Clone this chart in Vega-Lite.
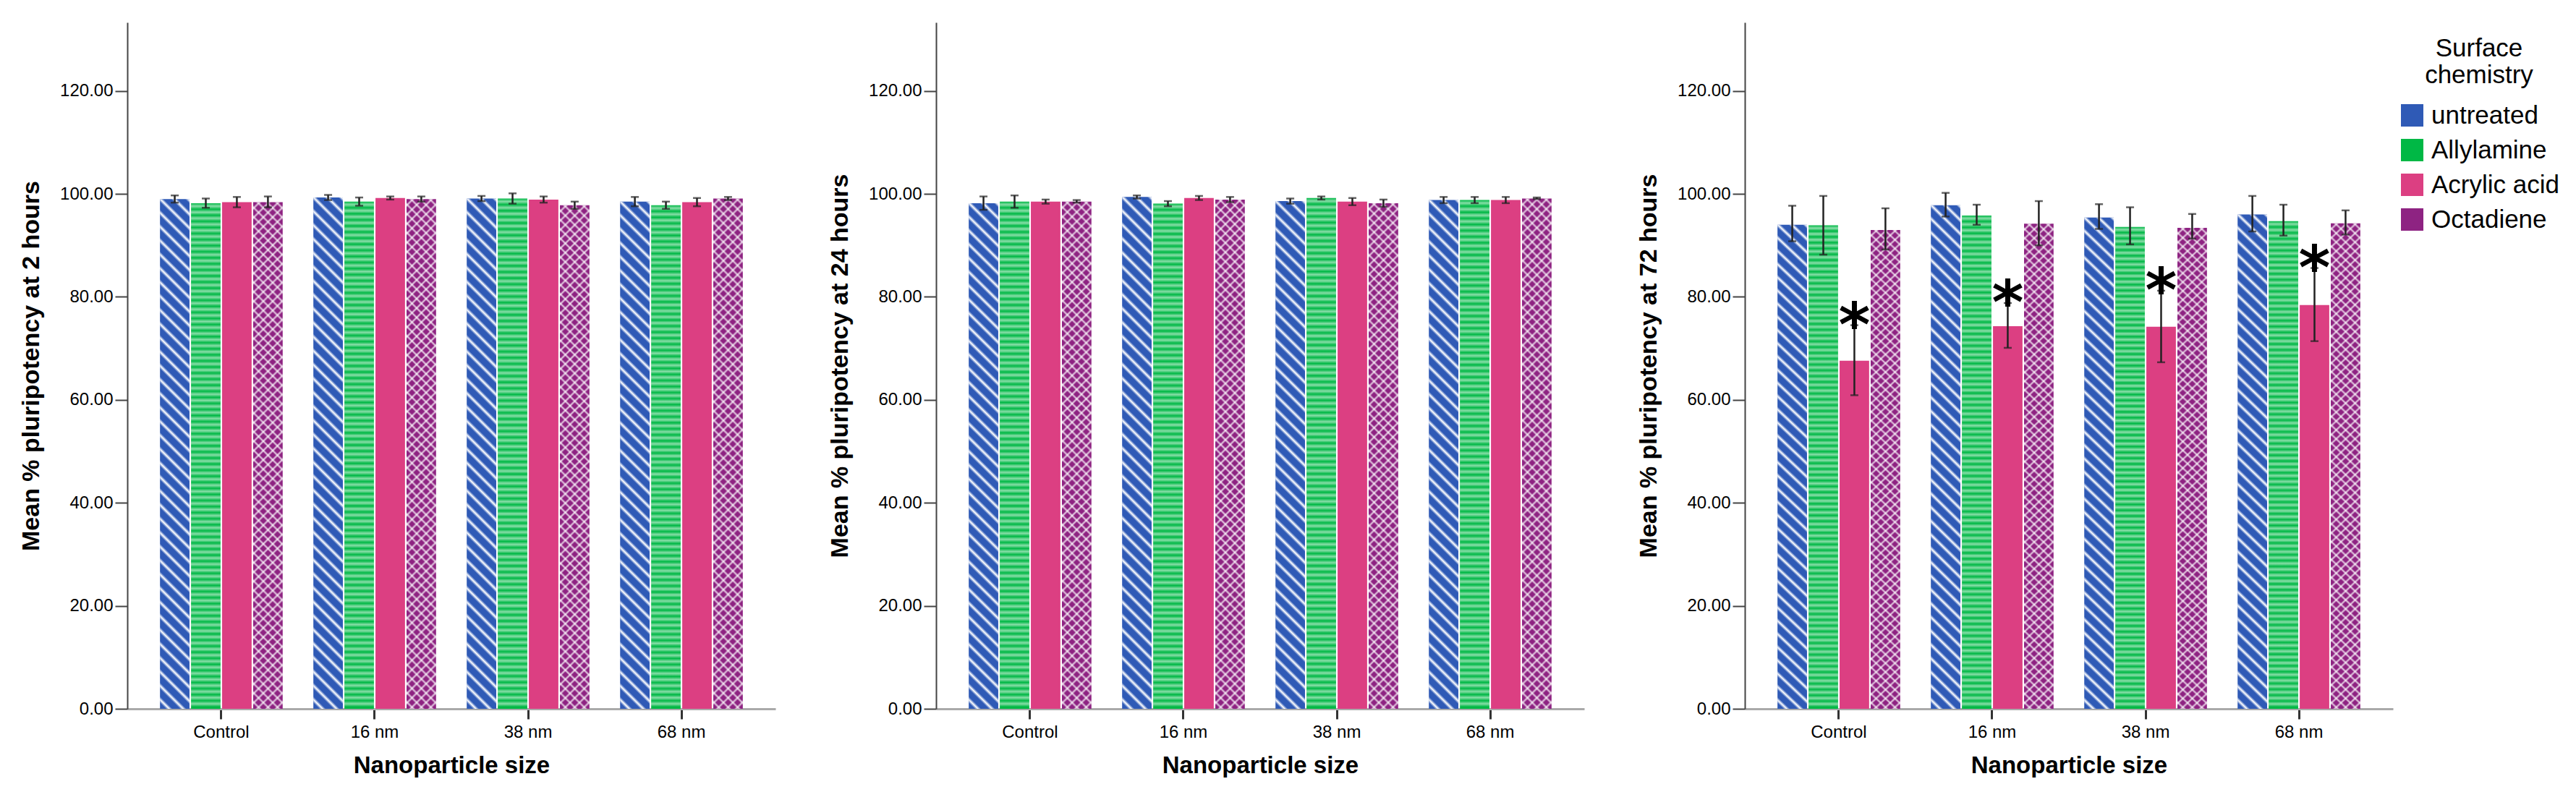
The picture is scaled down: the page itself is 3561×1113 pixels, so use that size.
{
  "$schema": "https://vega.github.io/schema/vega-lite/v6.json",
  "padding": {"left": 26, "top": 31, "right": 0, "bottom": 0},
  "background": "white",
  "spacing": 72,
  "params": [
    {"name": "thin", "value": [
      {"offset":0,"color":"#fff0"},{"offset":0.004,"color":"#fff"},{"offset":0.008,"color":"#fff0"},
      {"offset":0.017,"color":"#fff0"},{"offset":0.021,"color":"#fff"},{"offset":0.025,"color":"#fff0"},
      {"offset":0.034,"color":"#fff0"},{"offset":0.038,"color":"#fff"},{"offset":0.042,"color":"#fff0"},
      {"offset":0.051,"color":"#fff0"},{"offset":0.055,"color":"#fff"},{"offset":0.059,"color":"#fff0"},
      {"offset":0.068,"color":"#fff0"},{"offset":0.072,"color":"#fff"},{"offset":0.076,"color":"#fff0"},
      {"offset":0.085,"color":"#fff0"},{"offset":0.089,"color":"#fff"},{"offset":0.093,"color":"#fff0"},
      {"offset":0.102,"color":"#fff0"},{"offset":0.106,"color":"#fff"},{"offset":0.11,"color":"#fff0"},
      {"offset":0.119,"color":"#fff0"},{"offset":0.123,"color":"#fff"},{"offset":0.127,"color":"#fff0"},
      {"offset":0.136,"color":"#fff0"},{"offset":0.14,"color":"#fff"},{"offset":0.144,"color":"#fff0"},
      {"offset":0.153,"color":"#fff0"},{"offset":0.157,"color":"#fff"},{"offset":0.161,"color":"#fff0"},
      {"offset":0.17,"color":"#fff0"},{"offset":0.174,"color":"#fff"},{"offset":0.178,"color":"#fff0"},
      {"offset":0.187,"color":"#fff0"},{"offset":0.191,"color":"#fff"},{"offset":0.195,"color":"#fff0"},
      {"offset":0.204,"color":"#fff0"},{"offset":0.208,"color":"#fff"},{"offset":0.212,"color":"#fff0"},
      {"offset":0.221,"color":"#fff0"},{"offset":0.225,"color":"#fff"},{"offset":0.229,"color":"#fff0"},
      {"offset":0.238,"color":"#fff0"},{"offset":0.242,"color":"#fff"},{"offset":0.246,"color":"#fff0"},
      {"offset":0.255,"color":"#fff0"},{"offset":0.259,"color":"#fff"},{"offset":0.263,"color":"#fff0"},
      {"offset":0.272,"color":"#fff0"},{"offset":0.276,"color":"#fff"},{"offset":0.28,"color":"#fff0"},
      {"offset":0.289,"color":"#fff0"},{"offset":0.293,"color":"#fff"},{"offset":0.297,"color":"#fff0"},
      {"offset":0.306,"color":"#fff0"},{"offset":0.31,"color":"#fff"},{"offset":0.314,"color":"#fff0"},
      {"offset":0.323,"color":"#fff0"},{"offset":0.327,"color":"#fff"},{"offset":0.331,"color":"#fff0"},
      {"offset":0.34,"color":"#fff0"},{"offset":0.344,"color":"#fff"},{"offset":0.348,"color":"#fff0"},
      {"offset":0.357,"color":"#fff0"},{"offset":0.361,"color":"#fff"},{"offset":0.365,"color":"#fff0"},
      {"offset":0.374,"color":"#fff0"},{"offset":0.378,"color":"#fff"},{"offset":0.382,"color":"#fff0"},
      {"offset":0.391,"color":"#fff0"},{"offset":0.395,"color":"#fff"},{"offset":0.399,"color":"#fff0"},
      {"offset":0.408,"color":"#fff0"},{"offset":0.412,"color":"#fff"},{"offset":0.416,"color":"#fff0"},
      {"offset":0.425,"color":"#fff0"},{"offset":0.429,"color":"#fff"},{"offset":0.433,"color":"#fff0"},
      {"offset":0.442,"color":"#fff0"},{"offset":0.446,"color":"#fff"},{"offset":0.45,"color":"#fff0"},
      {"offset":0.459,"color":"#fff0"},{"offset":0.463,"color":"#fff"},{"offset":0.467,"color":"#fff0"},
      {"offset":0.476,"color":"#fff0"},{"offset":0.48,"color":"#fff"},{"offset":0.484,"color":"#fff0"},
      {"offset":0.493,"color":"#fff0"},{"offset":0.497,"color":"#fff"},{"offset":0.501,"color":"#fff0"},
      {"offset":0.51,"color":"#fff0"},{"offset":0.514,"color":"#fff"},{"offset":0.518,"color":"#fff0"},
      {"offset":0.527,"color":"#fff0"},{"offset":0.531,"color":"#fff"},{"offset":0.535,"color":"#fff0"},
      {"offset":0.544,"color":"#fff0"},{"offset":0.548,"color":"#fff"},{"offset":0.552,"color":"#fff0"},
      {"offset":0.561,"color":"#fff0"},{"offset":0.565,"color":"#fff"},{"offset":0.569,"color":"#fff0"},
      {"offset":0.578,"color":"#fff0"},{"offset":0.582,"color":"#fff"},{"offset":0.586,"color":"#fff0"},
      {"offset":0.595,"color":"#fff0"},{"offset":0.599,"color":"#fff"},{"offset":0.603,"color":"#fff0"},
      {"offset":0.612,"color":"#fff0"},{"offset":0.616,"color":"#fff"},{"offset":0.62,"color":"#fff0"},
      {"offset":0.629,"color":"#fff0"},{"offset":0.633,"color":"#fff"},{"offset":0.637,"color":"#fff0"},
      {"offset":0.646,"color":"#fff0"},{"offset":0.65,"color":"#fff"},{"offset":0.654,"color":"#fff0"},
      {"offset":0.663,"color":"#fff0"},{"offset":0.667,"color":"#fff"},{"offset":0.671,"color":"#fff0"},
      {"offset":0.68,"color":"#fff0"},{"offset":0.684,"color":"#fff"},{"offset":0.688,"color":"#fff0"},
      {"offset":0.697,"color":"#fff0"},{"offset":0.701,"color":"#fff"},{"offset":0.705,"color":"#fff0"},
      {"offset":0.714,"color":"#fff0"},{"offset":0.718,"color":"#fff"},{"offset":0.722,"color":"#fff0"},
      {"offset":0.731,"color":"#fff0"},{"offset":0.735,"color":"#fff"},{"offset":0.739,"color":"#fff0"},
      {"offset":0.748,"color":"#fff0"},{"offset":0.752,"color":"#fff"},{"offset":0.756,"color":"#fff0"},
      {"offset":0.765,"color":"#fff0"},{"offset":0.769,"color":"#fff"},{"offset":0.773,"color":"#fff0"},
      {"offset":0.782,"color":"#fff0"},{"offset":0.786,"color":"#fff"},{"offset":0.79,"color":"#fff0"},
      {"offset":0.799,"color":"#fff0"},{"offset":0.803,"color":"#fff"},{"offset":0.807,"color":"#fff0"},
      {"offset":0.816,"color":"#fff0"},{"offset":0.82,"color":"#fff"},{"offset":0.824,"color":"#fff0"},
      {"offset":0.833,"color":"#fff0"},{"offset":0.837,"color":"#fff"},{"offset":0.841,"color":"#fff0"},
      {"offset":0.85,"color":"#fff0"},{"offset":0.854,"color":"#fff"},{"offset":0.858,"color":"#fff0"},
      {"offset":0.867,"color":"#fff0"},{"offset":0.871,"color":"#fff"},{"offset":0.875,"color":"#fff0"},
      {"offset":0.884,"color":"#fff0"},{"offset":0.888,"color":"#fff"},{"offset":0.892,"color":"#fff0"},
      {"offset":0.901,"color":"#fff0"},{"offset":0.905,"color":"#fff"},{"offset":0.909,"color":"#fff0"},
      {"offset":0.918,"color":"#fff0"},{"offset":0.922,"color":"#fff"},{"offset":0.926,"color":"#fff0"},
      {"offset":0.935,"color":"#fff0"},{"offset":0.939,"color":"#fff"},{"offset":0.943,"color":"#fff0"},
      {"offset":0.952,"color":"#fff0"},{"offset":0.956,"color":"#fff"},{"offset":0.96,"color":"#fff0"},
      {"offset":0.969,"color":"#fff0"},{"offset":0.973,"color":"#fff"},{"offset":0.977,"color":"#fff0"},
      {"offset":0.986,"color":"#fff0"},{"offset":0.99,"color":"#fff"},{"offset":0.994,"color":"#fff0"}
    ]},
    {"name": "soft", "value": [
      {"offset":0,"color":"#fff0"},{"offset":0.006,"color":"#fff8"},{"offset":0.012,"color":"#fff0"},{"offset":0.018,"color":"#fff8"},
      {"offset":0.024,"color":"#fff0"},{"offset":0.03,"color":"#fff8"},{"offset":0.036,"color":"#fff0"},{"offset":0.042,"color":"#fff8"},
      {"offset":0.048,"color":"#fff0"},{"offset":0.054,"color":"#fff8"},{"offset":0.06,"color":"#fff0"},{"offset":0.066,"color":"#fff8"},
      {"offset":0.072,"color":"#fff0"},{"offset":0.078,"color":"#fff8"},{"offset":0.084,"color":"#fff0"},{"offset":0.09,"color":"#fff8"},
      {"offset":0.096,"color":"#fff0"},{"offset":0.102,"color":"#fff8"},{"offset":0.108,"color":"#fff0"},{"offset":0.114,"color":"#fff8"},
      {"offset":0.12,"color":"#fff0"},{"offset":0.126,"color":"#fff8"},{"offset":0.132,"color":"#fff0"},{"offset":0.138,"color":"#fff8"},
      {"offset":0.144,"color":"#fff0"},{"offset":0.15,"color":"#fff8"},{"offset":0.156,"color":"#fff0"},{"offset":0.162,"color":"#fff8"},
      {"offset":0.168,"color":"#fff0"},{"offset":0.174,"color":"#fff8"},{"offset":0.18,"color":"#fff0"},{"offset":0.186,"color":"#fff8"},
      {"offset":0.192,"color":"#fff0"},{"offset":0.198,"color":"#fff8"},{"offset":0.204,"color":"#fff0"},{"offset":0.21,"color":"#fff8"},
      {"offset":0.216,"color":"#fff0"},{"offset":0.222,"color":"#fff8"},{"offset":0.228,"color":"#fff0"},{"offset":0.234,"color":"#fff8"},
      {"offset":0.24,"color":"#fff0"},{"offset":0.246,"color":"#fff8"},{"offset":0.252,"color":"#fff0"},{"offset":0.258,"color":"#fff8"},
      {"offset":0.264,"color":"#fff0"},{"offset":0.27,"color":"#fff8"},{"offset":0.276,"color":"#fff0"},{"offset":0.282,"color":"#fff8"},
      {"offset":0.288,"color":"#fff0"},{"offset":0.294,"color":"#fff8"},{"offset":0.3,"color":"#fff0"},{"offset":0.306,"color":"#fff8"},
      {"offset":0.312,"color":"#fff0"},{"offset":0.318,"color":"#fff8"},{"offset":0.324,"color":"#fff0"},{"offset":0.33,"color":"#fff8"},
      {"offset":0.336,"color":"#fff0"},{"offset":0.342,"color":"#fff8"},{"offset":0.348,"color":"#fff0"},{"offset":0.354,"color":"#fff8"},
      {"offset":0.36,"color":"#fff0"},{"offset":0.366,"color":"#fff8"},{"offset":0.372,"color":"#fff0"},{"offset":0.378,"color":"#fff8"},
      {"offset":0.384,"color":"#fff0"},{"offset":0.39,"color":"#fff8"},{"offset":0.396,"color":"#fff0"},{"offset":0.402,"color":"#fff8"},
      {"offset":0.408,"color":"#fff0"},{"offset":0.414,"color":"#fff8"},{"offset":0.42,"color":"#fff0"},{"offset":0.426,"color":"#fff8"},
      {"offset":0.432,"color":"#fff0"},{"offset":0.438,"color":"#fff8"},{"offset":0.444,"color":"#fff0"},{"offset":0.45,"color":"#fff8"},
      {"offset":0.456,"color":"#fff0"},{"offset":0.462,"color":"#fff8"},{"offset":0.468,"color":"#fff0"},{"offset":0.474,"color":"#fff8"},
      {"offset":0.48,"color":"#fff0"},{"offset":0.486,"color":"#fff8"},{"offset":0.492,"color":"#fff0"},{"offset":0.498,"color":"#fff8"},
      {"offset":0.504,"color":"#fff0"},{"offset":0.51,"color":"#fff8"},{"offset":0.516,"color":"#fff0"},{"offset":0.522,"color":"#fff8"},
      {"offset":0.528,"color":"#fff0"},{"offset":0.534,"color":"#fff8"},{"offset":0.54,"color":"#fff0"},{"offset":0.546,"color":"#fff8"},
      {"offset":0.552,"color":"#fff0"},{"offset":0.558,"color":"#fff8"},{"offset":0.564,"color":"#fff0"},{"offset":0.57,"color":"#fff8"},
      {"offset":0.576,"color":"#fff0"},{"offset":0.582,"color":"#fff8"},{"offset":0.588,"color":"#fff0"},{"offset":0.594,"color":"#fff8"},
      {"offset":0.6,"color":"#fff0"},{"offset":0.606,"color":"#fff8"},{"offset":0.612,"color":"#fff0"},{"offset":0.618,"color":"#fff8"},
      {"offset":0.624,"color":"#fff0"},{"offset":0.63,"color":"#fff8"},{"offset":0.636,"color":"#fff0"},{"offset":0.642,"color":"#fff8"},
      {"offset":0.648,"color":"#fff0"},{"offset":0.654,"color":"#fff8"},{"offset":0.66,"color":"#fff0"},{"offset":0.666,"color":"#fff8"},
      {"offset":0.672,"color":"#fff0"},{"offset":0.678,"color":"#fff8"},{"offset":0.684,"color":"#fff0"},{"offset":0.69,"color":"#fff8"},
      {"offset":0.696,"color":"#fff0"},{"offset":0.702,"color":"#fff8"},{"offset":0.708,"color":"#fff0"},{"offset":0.714,"color":"#fff8"},
      {"offset":0.72,"color":"#fff0"},{"offset":0.726,"color":"#fff8"},{"offset":0.732,"color":"#fff0"},{"offset":0.738,"color":"#fff8"},
      {"offset":0.744,"color":"#fff0"},{"offset":0.75,"color":"#fff8"},{"offset":0.756,"color":"#fff0"},{"offset":0.762,"color":"#fff8"},
      {"offset":0.768,"color":"#fff0"},{"offset":0.774,"color":"#fff8"},{"offset":0.78,"color":"#fff0"},{"offset":0.786,"color":"#fff8"},
      {"offset":0.792,"color":"#fff0"},{"offset":0.798,"color":"#fff8"},{"offset":0.804,"color":"#fff0"},{"offset":0.81,"color":"#fff8"},
      {"offset":0.816,"color":"#fff0"},{"offset":0.822,"color":"#fff8"},{"offset":0.828,"color":"#fff0"},{"offset":0.834,"color":"#fff8"},
      {"offset":0.84,"color":"#fff0"},{"offset":0.846,"color":"#fff8"},{"offset":0.852,"color":"#fff0"},{"offset":0.858,"color":"#fff8"},
      {"offset":0.864,"color":"#fff0"},{"offset":0.87,"color":"#fff8"},{"offset":0.876,"color":"#fff0"},{"offset":0.882,"color":"#fff8"},
      {"offset":0.888,"color":"#fff0"},{"offset":0.894,"color":"#fff8"},{"offset":0.9,"color":"#fff0"},{"offset":0.906,"color":"#fff8"},
      {"offset":0.912,"color":"#fff0"},{"offset":0.918,"color":"#fff8"},{"offset":0.924,"color":"#fff0"},{"offset":0.93,"color":"#fff8"},
      {"offset":0.936,"color":"#fff0"},{"offset":0.942,"color":"#fff8"},{"offset":0.948,"color":"#fff0"},{"offset":0.954,"color":"#fff8"},
      {"offset":0.96,"color":"#fff0"},{"offset":0.966,"color":"#fff8"},{"offset":0.972,"color":"#fff0"},{"offset":0.978,"color":"#fff8"},
      {"offset":0.984,"color":"#fff0"},{"offset":0.99,"color":"#fff8"},{"offset":0.996,"color":"#fff0"}
    ]}
  ],
  "data": {"values": [
    {"time":"2 hours","size":"Control","chem":"untreated","mean":99.0,"lo":98.3,"hi":99.7},
    {"time":"2 hours","size":"Control","chem":"Allylamine","mean":98.2,"lo":97.3,"hi":99.1},
    {"time":"2 hours","size":"Control","chem":"Acrylic acid","mean":98.4,"lo":97.4,"hi":99.4},
    {"time":"2 hours","size":"Control","chem":"Octadiene","mean":98.4,"lo":97.4,"hi":99.5},
    {"time":"2 hours","size":"16 nm","chem":"untreated","mean":99.3,"lo":98.8,"hi":99.8},
    {"time":"2 hours","size":"16 nm","chem":"Allylamine","mean":98.5,"lo":97.7,"hi":99.3},
    {"time":"2 hours","size":"16 nm","chem":"Acrylic acid","mean":99.2,"lo":98.9,"hi":99.5},
    {"time":"2 hours","size":"16 nm","chem":"Octadiene","mean":99.0,"lo":98.5,"hi":99.5},
    {"time":"2 hours","size":"38 nm","chem":"untreated","mean":99.1,"lo":98.6,"hi":99.6},
    {"time":"2 hours","size":"38 nm","chem":"Allylamine","mean":99.1,"lo":98.1,"hi":100.1},
    {"time":"2 hours","size":"38 nm","chem":"Acrylic acid","mean":98.9,"lo":98.3,"hi":99.5},
    {"time":"2 hours","size":"38 nm","chem":"Octadiene","mean":97.8,"lo":97.1,"hi":98.5},
    {"time":"2 hours","size":"68 nm","chem":"untreated","mean":98.5,"lo":97.6,"hi":99.4},
    {"time":"2 hours","size":"68 nm","chem":"Allylamine","mean":97.8,"lo":97.1,"hi":98.5},
    {"time":"2 hours","size":"68 nm","chem":"Acrylic acid","mean":98.4,"lo":97.6,"hi":99.2},
    {"time":"2 hours","size":"68 nm","chem":"Octadiene","mean":99.1,"lo":98.8,"hi":99.4},
    {"time":"24 hours","size":"Control","chem":"untreated","mean":98.2,"lo":96.9,"hi":99.5},
    {"time":"24 hours","size":"Control","chem":"Allylamine","mean":98.5,"lo":97.3,"hi":99.7},
    {"time":"24 hours","size":"Control","chem":"Acrylic acid","mean":98.5,"lo":98.1,"hi":98.9},
    {"time":"24 hours","size":"Control","chem":"Octadiene","mean":98.5,"lo":98.3,"hi":98.8},
    {"time":"24 hours","size":"16 nm","chem":"untreated","mean":99.4,"lo":99.1,"hi":99.7},
    {"time":"24 hours","size":"16 nm","chem":"Allylamine","mean":98.1,"lo":97.6,"hi":98.6},
    {"time":"24 hours","size":"16 nm","chem":"Acrylic acid","mean":99.2,"lo":98.8,"hi":99.6},
    {"time":"24 hours","size":"16 nm","chem":"Octadiene","mean":98.9,"lo":98.4,"hi":99.4},
    {"time":"24 hours","size":"38 nm","chem":"untreated","mean":98.6,"lo":98.1,"hi":99.1},
    {"time":"24 hours","size":"38 nm","chem":"Allylamine","mean":99.2,"lo":98.9,"hi":99.5},
    {"time":"24 hours","size":"38 nm","chem":"Acrylic acid","mean":98.5,"lo":97.8,"hi":99.2},
    {"time":"24 hours","size":"38 nm","chem":"Octadiene","mean":98.2,"lo":97.5,"hi":98.9},
    {"time":"24 hours","size":"68 nm","chem":"untreated","mean":98.8,"lo":98.2,"hi":99.4},
    {"time":"24 hours","size":"68 nm","chem":"Allylamine","mean":98.8,"lo":98.2,"hi":99.4},
    {"time":"24 hours","size":"68 nm","chem":"Acrylic acid","mean":98.8,"lo":98.2,"hi":99.4},
    {"time":"24 hours","size":"68 nm","chem":"Octadiene","mean":99.1,"lo":99.0,"hi":99.3},
    {"time":"72 hours","size":"Control","chem":"untreated","mean":94.0,"lo":90.8,"hi":97.7},
    {"time":"72 hours","size":"Control","chem":"Allylamine","mean":93.9,"lo":88.2,"hi":99.6},
    {"time":"72 hours","size":"Control","chem":"Acrylic acid","mean":67.6,"lo":60.9,"hi":74.5,"star":"*"},
    {"time":"72 hours","size":"Control","chem":"Octadiene","mean":93.0,"lo":89.2,"hi":97.2},
    {"time":"72 hours","size":"16 nm","chem":"untreated","mean":97.8,"lo":95.6,"hi":100.2},
    {"time":"72 hours","size":"16 nm","chem":"Allylamine","mean":95.8,"lo":94.0,"hi":97.9},
    {"time":"72 hours","size":"16 nm","chem":"Acrylic acid","mean":74.3,"lo":70.1,"hi":78.8,"star":"*"},
    {"time":"72 hours","size":"16 nm","chem":"Octadiene","mean":94.2,"lo":90.0,"hi":98.6},
    {"time":"72 hours","size":"38 nm","chem":"untreated","mean":95.4,"lo":93.2,"hi":98.0},
    {"time":"72 hours","size":"38 nm","chem":"Allylamine","mean":93.6,"lo":90.2,"hi":97.4},
    {"time":"72 hours","size":"38 nm","chem":"Acrylic acid","mean":74.2,"lo":67.3,"hi":81.2,"star":"*"},
    {"time":"72 hours","size":"38 nm","chem":"Octadiene","mean":93.4,"lo":91.3,"hi":96.1},
    {"time":"72 hours","size":"68 nm","chem":"untreated","mean":96.0,"lo":92.7,"hi":99.6},
    {"time":"72 hours","size":"68 nm","chem":"Allylamine","mean":94.7,"lo":91.9,"hi":97.9},
    {"time":"72 hours","size":"68 nm","chem":"Acrylic acid","mean":78.4,"lo":71.4,"hi":85.6,"star":"*"},
    {"time":"72 hours","size":"68 nm","chem":"Octadiene","mean":94.3,"lo":92.1,"hi":96.8}
  ]},
  "resolve": {"scale": {"color": "shared"}},
  "config": {
    "view": {"stroke": null},
    "font": "Liberation Sans",
    "axis": {"grid": false, "labelColor": "black", "titleColor": "black", "labelFont": "Liberation Sans", "titleFont": "Liberation Sans"},
    "axisY": {"domainColor": "#444", "domainWidth": 2, "tickColor": "#444", "tickWidth": 2, "tickSize": 17, "labelPadding": 3, "labelFontSize": 24, "titleFontSize": 34, "titleFontWeight": "bold", "titlePadding": 22, "format": ".2f"},
    "axisX": {"domainColor": "#aaa", "domainWidth": 3, "tickColor": "#333", "tickWidth": 3, "tickSize": 14, "labelAngle": 0, "labelPadding": 6, "labelFontSize": 24, "titleFontSize": 33, "titleFontWeight": "bold", "titlePadding": 18},
    "legend": {"orient": "right", "offset": -10, "padding": 19, "titleFont": "Liberation Sans", "titleFontSize": 35, "titleFontWeight": "normal", "titleColor": "black", "titleAnchor": "middle", "titleAlign": "center", "titleLineHeight": 37, "titlePadding": 20, "labelFont": "Liberation Sans", "labelFontSize": 35, "labelColor": "black", "labelOffset": 9, "labelLimit": 400, "symbolType": "square", "symbolSize": 961, "symbolStrokeWidth": 0, "symbolOpacity": 1, "rowPadding": 12}
  },
  "hconcat": [
    {
      "width": 896, "height": 949,
      "transform": [{"filter": "datum.time == '2 hours'"}],
      "encoding": {
        "x": {"field": "size", "type": "nominal", "title": "Nanoparticle size", "scale": {"domain": ["Control", "16 nm", "38 nm", "68 nm"], "paddingInner": 0.2, "paddingOuter": 0.213}},
        "xOffset": {"field": "chem", "type": "nominal", "scale": {"domain": ["untreated", "Allylamine", "Acrylic acid", "Octadiene"], "paddingInner": 0.05, "paddingOuter": 0}}
      },
      "layer": [
        {"mark": {"type": "bar"}, "encoding": {
          "y": {"field": "mean", "type": "quantitative", "title": "Mean % pluripotency at 2 hours", "scale": {"domain": [0, 133.3], "nice": false}, "axis": {"values": [0, 20, 40, 60, 80, 100, 120]}},
          "color": {"field": "chem", "type": "nominal", "scale": {"domain": ["untreated", "Allylamine", "Acrylic acid", "Octadiene"], "range": ["#2f5ab6", "#00b845", "#dc3f82", "#8e2382"]}, "legend": {"title": ["Surface", "chemistry"]}}}},
        {"transform": [{"filter": "datum.chem == 'untreated'"}], "mark": {"type": "bar", "color": {"expr": "{gradient: 'linear', x1: 0, y1: -0.58, x2: -0.092, y2: 1.02, stops: thin}"}},
          "encoding": {"y": {"field": "mean", "type": "quantitative", "title": "Mean % pluripotency at 2 hours", "scale": {"domain": [0, 133.3], "nice": false}, "axis": {"values": [0, 20, 40, 60, 80, 100, 120]}}}},
        {"transform": [{"filter": "datum.chem == 'Allylamine'"}], "mark": {"type": "bar", "color": {"expr": "{gradient: 'linear', x1: 0, y1: 0, x2: 0, y2: 1, stops: soft}"}},
          "encoding": {"y": {"field": "mean", "type": "quantitative", "title": "Mean % pluripotency at 2 hours", "scale": {"domain": [0, 133.3], "nice": false}, "axis": {"values": [0, 20, 40, 60, 80, 100, 120]}}}},
        {"transform": [{"filter": "datum.chem == 'Octadiene'"}], "mark": {"type": "bar", "opacity": 0.75, "color": {"expr": "{gradient: 'linear', x1: 0, y1: -0.068, x2: -0.0623, y2: 1.012, stops: thin}"}},
          "encoding": {"y": {"field": "mean", "type": "quantitative", "title": "Mean % pluripotency at 2 hours", "scale": {"domain": [0, 133.3], "nice": false}, "axis": {"values": [0, 20, 40, 60, 80, 100, 120]}}}},
        {"transform": [{"filter": "datum.chem == 'Octadiene'"}], "mark": {"type": "bar", "opacity": 0.75, "color": {"expr": "{gradient: 'linear', x1: 0, y1: -0.01, x2: 0.0623, y2: 1.07, stops: thin}"}},
          "encoding": {"y": {"field": "mean", "type": "quantitative", "title": "Mean % pluripotency at 2 hours", "scale": {"domain": [0, 133.3], "nice": false}, "axis": {"values": [0, 20, 40, 60, 80, 100, 120]}}}},
        {"mark": {"type": "rule", "color": "#222", "strokeWidth": 2.5}, "encoding": {
          "y": {"field": "lo", "type": "quantitative", "title": "Mean % pluripotency at 2 hours", "scale": {"domain": [0, 133.3], "nice": false}, "axis": {"values": [0, 20, 40, 60, 80, 100, 120]}}, "y2": {"field": "hi"}}},
        {"mark": {"type": "tick", "color": "#222", "size": 11, "thickness": 2.5}, "encoding": {
          "y": {"field": "lo", "type": "quantitative", "title": "Mean % pluripotency at 2 hours", "scale": {"domain": [0, 133.3], "nice": false}, "axis": {"values": [0, 20, 40, 60, 80, 100, 120]}}}},
        {"mark": {"type": "tick", "color": "#222", "size": 11, "thickness": 2.5}, "encoding": {
          "y": {"field": "hi", "type": "quantitative", "title": "Mean % pluripotency at 2 hours", "scale": {"domain": [0, 133.3], "nice": false}, "axis": {"values": [0, 20, 40, 60, 80, 100, 120]}}}}
      ]
    },
    {
      "width": 896, "height": 949,
      "transform": [{"filter": "datum.time == '24 hours'"}],
      "encoding": {
        "x": {"field": "size", "type": "nominal", "title": "Nanoparticle size", "scale": {"domain": ["Control", "16 nm", "38 nm", "68 nm"], "paddingInner": 0.2, "paddingOuter": 0.213}},
        "xOffset": {"field": "chem", "type": "nominal", "scale": {"domain": ["untreated", "Allylamine", "Acrylic acid", "Octadiene"], "paddingInner": 0.05, "paddingOuter": 0}}
      },
      "layer": [
        {"mark": {"type": "bar"}, "encoding": {
          "y": {"field": "mean", "type": "quantitative", "title": "Mean % pluripotency at 24 hours", "scale": {"domain": [0, 133.3], "nice": false}, "axis": {"values": [0, 20, 40, 60, 80, 100, 120]}},
          "color": {"field": "chem", "type": "nominal", "scale": {"domain": ["untreated", "Allylamine", "Acrylic acid", "Octadiene"], "range": ["#2f5ab6", "#00b845", "#dc3f82", "#8e2382"]}, "legend": {"title": ["Surface", "chemistry"]}}}},
        {"transform": [{"filter": "datum.chem == 'untreated'"}], "mark": {"type": "bar", "color": {"expr": "{gradient: 'linear', x1: 0, y1: -0.58, x2: -0.092, y2: 1.02, stops: thin}"}},
          "encoding": {"y": {"field": "mean", "type": "quantitative", "title": "Mean % pluripotency at 24 hours", "scale": {"domain": [0, 133.3], "nice": false}, "axis": {"values": [0, 20, 40, 60, 80, 100, 120]}}}},
        {"transform": [{"filter": "datum.chem == 'Allylamine'"}], "mark": {"type": "bar", "color": {"expr": "{gradient: 'linear', x1: 0, y1: 0, x2: 0, y2: 1, stops: soft}"}},
          "encoding": {"y": {"field": "mean", "type": "quantitative", "title": "Mean % pluripotency at 24 hours", "scale": {"domain": [0, 133.3], "nice": false}, "axis": {"values": [0, 20, 40, 60, 80, 100, 120]}}}},
        {"transform": [{"filter": "datum.chem == 'Octadiene'"}], "mark": {"type": "bar", "opacity": 0.75, "color": {"expr": "{gradient: 'linear', x1: 0, y1: -0.068, x2: -0.0623, y2: 1.012, stops: thin}"}},
          "encoding": {"y": {"field": "mean", "type": "quantitative", "title": "Mean % pluripotency at 24 hours", "scale": {"domain": [0, 133.3], "nice": false}, "axis": {"values": [0, 20, 40, 60, 80, 100, 120]}}}},
        {"transform": [{"filter": "datum.chem == 'Octadiene'"}], "mark": {"type": "bar", "opacity": 0.75, "color": {"expr": "{gradient: 'linear', x1: 0, y1: -0.01, x2: 0.0623, y2: 1.07, stops: thin}"}},
          "encoding": {"y": {"field": "mean", "type": "quantitative", "title": "Mean % pluripotency at 24 hours", "scale": {"domain": [0, 133.3], "nice": false}, "axis": {"values": [0, 20, 40, 60, 80, 100, 120]}}}},
        {"mark": {"type": "rule", "color": "#222", "strokeWidth": 2.5}, "encoding": {
          "y": {"field": "lo", "type": "quantitative", "title": "Mean % pluripotency at 24 hours", "scale": {"domain": [0, 133.3], "nice": false}, "axis": {"values": [0, 20, 40, 60, 80, 100, 120]}}, "y2": {"field": "hi"}}},
        {"mark": {"type": "tick", "color": "#222", "size": 11, "thickness": 2.5}, "encoding": {
          "y": {"field": "lo", "type": "quantitative", "title": "Mean % pluripotency at 24 hours", "scale": {"domain": [0, 133.3], "nice": false}, "axis": {"values": [0, 20, 40, 60, 80, 100, 120]}}}},
        {"mark": {"type": "tick", "color": "#222", "size": 11, "thickness": 2.5}, "encoding": {
          "y": {"field": "hi", "type": "quantitative", "title": "Mean % pluripotency at 24 hours", "scale": {"domain": [0, 133.3], "nice": false}, "axis": {"values": [0, 20, 40, 60, 80, 100, 120]}}}}
      ]
    },
    {
      "width": 896, "height": 949,
      "transform": [{"filter": "datum.time == '72 hours'"}],
      "encoding": {
        "x": {"field": "size", "type": "nominal", "title": "Nanoparticle size", "scale": {"domain": ["Control", "16 nm", "38 nm", "68 nm"], "paddingInner": 0.2, "paddingOuter": 0.213}},
        "xOffset": {"field": "chem", "type": "nominal", "scale": {"domain": ["untreated", "Allylamine", "Acrylic acid", "Octadiene"], "paddingInner": 0.05, "paddingOuter": 0}}
      },
      "layer": [
        {"mark": {"type": "bar"}, "encoding": {
          "y": {"field": "mean", "type": "quantitative", "title": "Mean % pluripotency at 72 hours", "scale": {"domain": [0, 133.3], "nice": false}, "axis": {"values": [0, 20, 40, 60, 80, 100, 120]}},
          "color": {"field": "chem", "type": "nominal", "scale": {"domain": ["untreated", "Allylamine", "Acrylic acid", "Octadiene"], "range": ["#2f5ab6", "#00b845", "#dc3f82", "#8e2382"]}, "legend": {"title": ["Surface", "chemistry"]}}}},
        {"transform": [{"filter": "datum.chem == 'untreated'"}], "mark": {"type": "bar", "color": {"expr": "{gradient: 'linear', x1: 0, y1: -0.58, x2: -0.092, y2: 1.02, stops: thin}"}},
          "encoding": {"y": {"field": "mean", "type": "quantitative", "title": "Mean % pluripotency at 72 hours", "scale": {"domain": [0, 133.3], "nice": false}, "axis": {"values": [0, 20, 40, 60, 80, 100, 120]}}}},
        {"transform": [{"filter": "datum.chem == 'Allylamine'"}], "mark": {"type": "bar", "color": {"expr": "{gradient: 'linear', x1: 0, y1: 0, x2: 0, y2: 1, stops: soft}"}},
          "encoding": {"y": {"field": "mean", "type": "quantitative", "title": "Mean % pluripotency at 72 hours", "scale": {"domain": [0, 133.3], "nice": false}, "axis": {"values": [0, 20, 40, 60, 80, 100, 120]}}}},
        {"transform": [{"filter": "datum.chem == 'Octadiene'"}], "mark": {"type": "bar", "opacity": 0.75, "color": {"expr": "{gradient: 'linear', x1: 0, y1: -0.068, x2: -0.0623, y2: 1.012, stops: thin}"}},
          "encoding": {"y": {"field": "mean", "type": "quantitative", "title": "Mean % pluripotency at 72 hours", "scale": {"domain": [0, 133.3], "nice": false}, "axis": {"values": [0, 20, 40, 60, 80, 100, 120]}}}},
        {"transform": [{"filter": "datum.chem == 'Octadiene'"}], "mark": {"type": "bar", "opacity": 0.75, "color": {"expr": "{gradient: 'linear', x1: 0, y1: -0.01, x2: 0.0623, y2: 1.07, stops: thin}"}},
          "encoding": {"y": {"field": "mean", "type": "quantitative", "title": "Mean % pluripotency at 72 hours", "scale": {"domain": [0, 133.3], "nice": false}, "axis": {"values": [0, 20, 40, 60, 80, 100, 120]}}}},
        {"mark": {"type": "rule", "color": "#222", "strokeWidth": 2.5}, "encoding": {
          "y": {"field": "lo", "type": "quantitative", "title": "Mean % pluripotency at 72 hours", "scale": {"domain": [0, 133.3], "nice": false}, "axis": {"values": [0, 20, 40, 60, 80, 100, 120]}}, "y2": {"field": "hi"}}},
        {"mark": {"type": "tick", "color": "#222", "size": 11, "thickness": 2.5}, "encoding": {
          "y": {"field": "lo", "type": "quantitative", "title": "Mean % pluripotency at 72 hours", "scale": {"domain": [0, 133.3], "nice": false}, "axis": {"values": [0, 20, 40, 60, 80, 100, 120]}}}},
        {"mark": {"type": "tick", "color": "#222", "size": 11, "thickness": 2.5}, "encoding": {
          "y": {"field": "hi", "type": "quantitative", "title": "Mean % pluripotency at 72 hours", "scale": {"domain": [0, 133.3], "nice": false}, "axis": {"values": [0, 20, 40, 60, 80, 100, 120]}}}},
        {"transform": [{"filter": "datum.star == '*'"}], "mark": {"type": "text", "font": "DejaVu Sans", "fontWeight": "bold", "fontSize": 84, "align": "center", "baseline": "alphabetic", "dy": 28, "color": "black"}, "encoding": {
          "y": {"field": "hi", "type": "quantitative", "title": "Mean % pluripotency at 72 hours", "scale": {"domain": [0, 133.3], "nice": false}, "axis": {"values": [0, 20, 40, 60, 80, 100, 120]}},
          "text": {"field": "star", "type": "nominal"}}}
      ]
    }
  ]
}
